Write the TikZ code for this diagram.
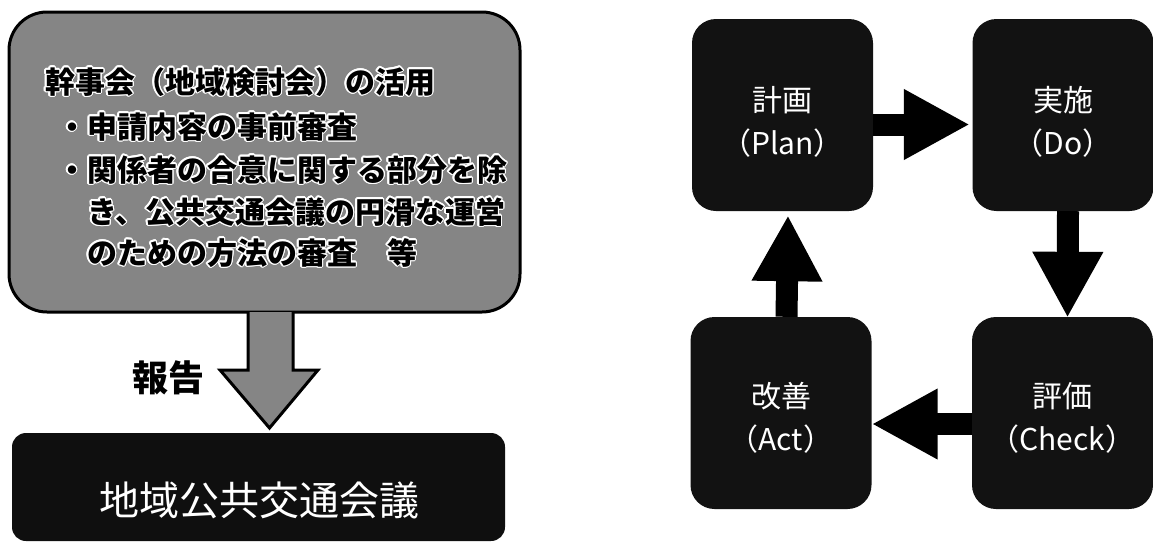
\documentclass[tikz,border=0pt]{standalone}
\usepackage{fontspec}
\setmainfont{Noto Sans CJK JP}
\usepackage{contour}
\contourlength{1.4pt}
\usetikzlibrary{arrows.meta}
\begin{document}
\begin{tikzpicture}[x=1pt,y=-1pt,
  gbox/.style={draw=black,line width=3pt,fill=black!48,rounded corners=38pt,inner sep=0,minimum width=511pt,minimum height=300pt},
  kbox/.style={fill=black!94,rounded corners=14pt,inner sep=0,minimum width=493pt,minimum height=108pt},
  pbox/.style={fill=black!93,rounded corners=24pt,inner sep=0,minimum width=181pt,minimum height=192pt},
  gline/.style={anchor=base west,inner sep=0,font=\bfseries\fontsize{30}{30}\selectfont},
  ptext/.style={text=white,align=center,font=\fontsize{30}{43}\selectfont,inner sep=0},
  fat/.style={line width=22pt,-{Triangle[length=66pt,width=66pt]}},
  hollow/.style={draw=black,line width=3pt,fill=black!48,line join=miter},
]
\useasboundingbox (0,0) rectangle (1153,541);
% left side
\node[gbox] (kanji) at (264.5,162) {};
\node[gline] (l1) at (45,93) {\contour{white}{幹事会（地域検討会）の活用}};
\node[gline] (l2) at (57,138) {\contour{white}{・申請内容の事前審査}};
\node[gline] (l3) at (57,181) {\contour{white}{・関係者の合意に関する部分を除}};
\node[gline] (l4) at (87,223) {\contour{white}{き、公共交通会議の円滑な運営}};
\node[gline] (l5) at (87,264) {\contour{white}{のための方法の審査　等}};
\node[kbox] (kaigi) at (258.5,487) {};
\node[text=white,inner sep=0,font=\fontsize{40}{40}\selectfont] (kaigit) at (259,500) {地域公共交通会議};
\coordinate (hs) at (270.5,312);
\draw[hollow] (hs) ++(-22.5,0) -- ++(0,58) -- ++(-28,0) -- (269.5,428) -- (318,370) -- ++(-25,0) -- ++(0,-58);
\node[inner sep=0,font=\bfseries\fontsize{36}{36}\selectfont] (houkoku) at (168,378) {報告};
% PDCA
\node[pbox] (plan) at (782.5,115) {};
\node[pbox] (do) at (1063,115) {};
\node[pbox] (act) at (781,413) {};
\node[pbox] (check) at (1062.5,413) {};
\node[ptext] (plant) at (782.5,121.5) {計画\\（Plan）};
\node[ptext] (dot) at (1063,121.5) {実施\\（Do）};
\node[ptext] (actt) at (781,417.5) {改善\\（Act）};
\node[ptext] (checkt) at (1062.5,417.5) {評価\\（Check）};
\draw[fat] ([yshift=-9.5pt]plan.east) -- ([xshift=-2.5pt,yshift=-9.5pt]do.west);
\draw[fat] ([xshift=5pt]do.south) -- ([xshift=5pt,yshift=-1pt]check.north);
\draw[fat] ([yshift=-11pt]check.west) -- ([yshift=-11pt]act.east);
\draw[fat] ([xshift=5.5pt]act.north) -- ([xshift=5.5pt,yshift=-4pt]plan.south);
\end{tikzpicture}
\end{document}
